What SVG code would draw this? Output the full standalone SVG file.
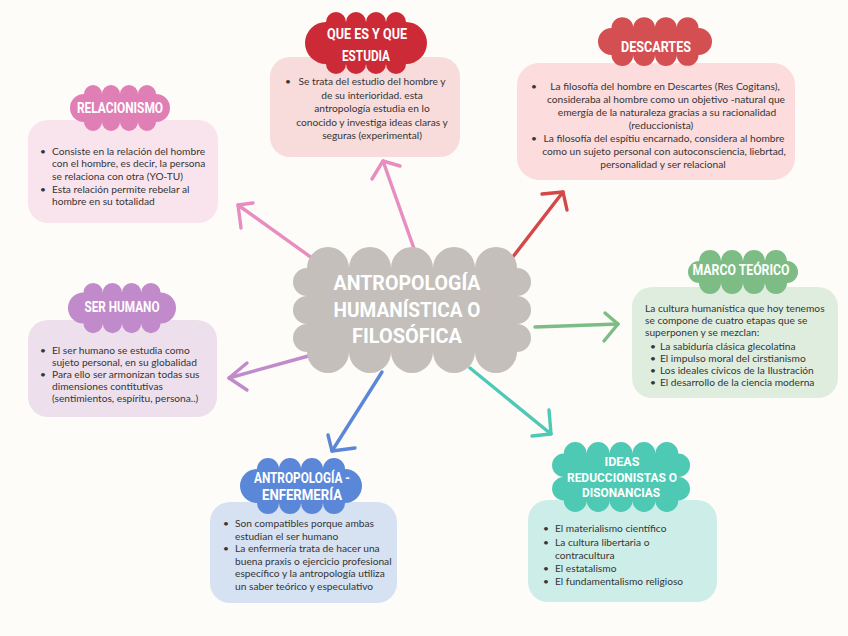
<svg xmlns="http://www.w3.org/2000/svg" width="848" height="636" viewBox="0 0 848 636">
<defs>
<style>
.bg{fill:#fdfcf8}
.box{stroke:none}
.hd{font-family:Roboto,"Liberation Sans",sans-serif;font-weight:700;fill:#ffffff;font-size:14px;text-anchor:middle}
.hs{font-size:12.5px}
.main{font-family:Roboto,"Liberation Sans",sans-serif;font-weight:700;fill:#ffffff;font-size:20px;text-anchor:middle}
.tx{font-family:Lato,"Liberation Sans",sans-serif;fill:#353535;font-size:10.2px}
.c{text-anchor:middle}
.ar{fill:none;stroke-width:3.4;stroke-linecap:round;stroke-linejoin:round}
</style>
</defs>
<rect class="bg" x="0" y="0" width="848" height="636"/>

<g id="connectors">
<g stroke="#e88dc0" class="ar"><path d="M417,257 L383,161"/><path d="M372,179 L383,161 L400,166"/></g>
<g stroke="#e88dc0" class="ar"><path d="M312,258 L238,205"/><path d="M253,203 L238,205 L241,228"/></g>
<g stroke="#d44848" class="ar"><path d="M512,258 L563,192"/><path d="M542,194 L563,192 L567,210"/></g>
<g stroke="#7dbd85" class="ar"><path d="M535,327 L618,324"/><path d="M605,313 L618,324 L604,341"/></g>
<g stroke="#4ec9b4" class="ar"><path d="M470,368 L551,434"/><path d="M549,410 L551,434 L532,436"/></g>
<g stroke="#5b87d8" class="ar"><path d="M382,372 L332,451"/><path d="M328,435 L332,451 L355,448"/></g>
<g stroke="#c08acb" class="ar"><path d="M312,355 L229,378"/><path d="M247,363 L229,378 L247,390"/></g>
</g>

<g id="center">
<path fill="#c4bfbb" d="M307,268 a21,21 0 0 1 42,0 a21,21 0 0 1 42,0 a21,21 0 0 1 42,0 a21,21 0 0 1 42,0 a21,21 0 0 1 42,0 a14,14 0 0 1 0,28 a14,14 0 0 1 0,28 a14,14 0 0 1 0,28 a21,21 0 0 1 -42,0 a21,21 0 0 1 -42,0 a21,21 0 0 1 -42,0 a21,21 0 0 1 -42,0 a21,21 0 0 1 -42,0 a14,14 0 0 1 0,-28 a14,14 0 0 1 0,-28 a14,14 0 0 1 0,-28 Z"/>
<text class="main" x="407" y="290" textLength="147" lengthAdjust="spacingAndGlyphs">ANTROPOLOGÍA</text>
<text class="main" x="407" y="317" textLength="147" lengthAdjust="spacingAndGlyphs">HUMANÍSTICA O</text>
<text class="main" x="407" y="343" textLength="110" lengthAdjust="spacingAndGlyphs">FILOSÓFICA</text>
</g>

<g id="que-es">
<rect class="box" fill="#f8dcdb" x="270" y="57" width="190" height="100" rx="20"/>
<path fill="#cc2a36" d="M326,22 a10,10 0 0 1 20,0 a10,10 0 0 1 20,0 a10,10 0 0 1 20,0 a10,10 0 0 1 20,0 a21,21 0 0 1 0,42 a10,10 0 0 1 -20,0 a10,10 0 0 1 -20,0 a10,10 0 0 1 -20,0 a10,10 0 0 1 -20,0 a21,21 0 0 1 0,-42 Z"/>
<text class="hd" x="367" y="39" textLength="80" lengthAdjust="spacingAndGlyphs">QUE ES Y QUE</text>
<text class="hd" x="366" y="61" textLength="48" lengthAdjust="spacingAndGlyphs">ESTUDIA</text>
<text class="tx" x="285" y="85">•</text>
<text class="tx c" x="372" y="85">Se trata del estudio del hombre y</text>
<text class="tx c" x="372" y="99">de su interioridad. esta</text>
<text class="tx c" x="372" y="112">antropología estudia en lo</text>
<text class="tx c" x="372" y="126">conocido y investiga ideas claras y</text>
<text class="tx c" x="372" y="139">seguras (experimental)</text>
</g>

<g id="descartes">
<rect class="box" fill="#fcdcdc" x="517" y="63" width="278" height="117" rx="22"/>
<path fill="#d44f52" d="M611.5,28 a10.875,10.875 0 0 1 21.75,0 a10.875,10.875 0 0 1 21.75,0 a10.875,10.875 0 0 1 21.75,0 a10.875,10.875 0 0 1 21.75,0 a13.5,13.5 0 0 1 0,27 a10.875,10.875 0 0 1 -21.75,0 a10.875,10.875 0 0 1 -21.75,0 a10.875,10.875 0 0 1 -21.75,0 a10.875,10.875 0 0 1 -21.75,0 a13.5,13.5 0 0 1 0,-27 Z"/>
<text class="hd" x="656" y="52" textLength="70" lengthAdjust="spacingAndGlyphs">DESCARTES</text>
<text class="tx" x="531" y="90">•</text>
<text class="tx c" x="665" y="90">La filosofía del hombre en Descartes (Res Cogitans),</text>
<text class="tx c" x="666" y="103">consideraba al hombre como un objetivo -natural que</text>
<text class="tx c" x="667" y="116">emergía de la naturaleza gracias a su racionalidad</text>
<text class="tx c" x="661" y="129">(reduccionista)</text>
<text class="tx" x="531" y="142">•</text>
<text class="tx c" x="664" y="142">La filosofía del espítiu encarnado, considera al hombre</text>
<text class="tx c" x="664" y="155">como un sujeto personal con autoconsciencia, liebrtad,</text>
<text class="tx c" x="663" y="168">personalidad y ser relacional</text>
</g>

<g id="relacionismo">
<rect class="box" fill="#f9e4ee" x="28" y="120" width="190" height="103" rx="20"/>
<path fill="#e07fb5" d="M84,94 a9,9 0 0 1 18,0 a9,9 0 0 1 18,0 a9,9 0 0 1 18,0 a9,9 0 0 1 18,0 a14,14 0 0 1 0,28 a9,9 0 0 1 -18,0 a9,9 0 0 1 -18,0 a9,9 0 0 1 -18,0 a9,9 0 0 1 -18,0 a14,14 0 0 1 0,-28 Z"/>
<text class="hd" x="120" y="113" textLength="86" lengthAdjust="spacingAndGlyphs">RELACIONISMO</text>
<text class="tx" x="40" y="155">•</text>
<text class="tx" x="52" y="155">Consiste en la relación del hombre</text>
<text class="tx" x="52" y="167">con el hombre, es decir, la persona</text>
<text class="tx" x="52" y="180">se relaciona con otra (YO-TU)</text>
<text class="tx" x="40" y="193">•</text>
<text class="tx" x="52" y="193">Esta relación permite rebelar al</text>
<text class="tx" x="52" y="205">hombre en su totalidad</text>
</g>

<g id="ser-humano">
<rect class="box" fill="#ede0ec" x="28" y="320" width="189" height="97" rx="20"/>
<path fill="#c08acb" d="M83.5,292.5 a9.625,9.625 0 0 1 19.25,0 a9.625,9.625 0 0 1 19.25,0 a9.625,9.625 0 0 1 19.25,0 a9.625,9.625 0 0 1 19.25,0 a15.5,15.5 0 0 1 0,31 a9.625,9.625 0 0 1 -19.25,0 a9.625,9.625 0 0 1 -19.25,0 a9.625,9.625 0 0 1 -19.25,0 a9.625,9.625 0 0 1 -19.25,0 a15.5,15.5 0 0 1 0,-31 Z"/>
<text class="hd" x="122" y="312" textLength="75" lengthAdjust="spacingAndGlyphs">SER HUMANO</text>
<text class="tx" x="40" y="354">•</text>
<text class="tx" x="52" y="354">El ser humano se estudia como</text>
<text class="tx" x="52" y="366">sujeto personal, en su globalidad</text>
<text class="tx" x="40" y="378">•</text>
<text class="tx" x="52" y="378">Para ello ser armonizan todas sus</text>
<text class="tx" x="52" y="390">dimensiones contitutivas</text>
<text class="tx" x="52" y="402">(sentimientos, espíritu, persona..)</text>
</g>

<g id="marco-teorico">
<rect class="box" fill="#dfeddf" x="632" y="287" width="206" height="111" rx="20"/>
<path fill="#7dbd85" d="M699,261 a11,11 0 0 1 22,0 a11,11 0 0 1 22,0 a11,11 0 0 1 22,0 a11,11 0 0 1 22,0 a11,11 0 0 1 0,22 a11,11 0 0 1 -22,0 a11,11 0 0 1 -22,0 a11,11 0 0 1 -22,0 a11,11 0 0 1 -22,0 a11,11 0 0 1 0,-22 Z"/>
<text class="hd" x="741" y="275" textLength="97" lengthAdjust="spacingAndGlyphs">MARCO TEÓRICO</text>
<text class="tx" x="645" y="312">La cultura humanística que hoy tenemos</text>
<text class="tx" x="645" y="324">se compone de cuatro etapas que se</text>
<text class="tx" x="645" y="336">superponen y se mezclan:</text>
<text class="tx" x="650" y="350">•</text>
<text class="tx" x="660" y="350">La sabiduría clásica glecolatina</text>
<text class="tx" x="650" y="362">•</text>
<text class="tx" x="660" y="362">El impulso moral del cirstianismo</text>
<text class="tx" x="650" y="374">•</text>
<text class="tx" x="660" y="374">Los ideales cívicos de la Ilustración</text>
<text class="tx" x="650" y="386">•</text>
<text class="tx" x="660" y="386">El desarrollo de la ciencia moderna</text>
</g>

<g id="enfermeria">
<rect class="box" fill="#d6e1f1" x="210" y="502" width="187" height="101" rx="20"/>
<path fill="#5b87d8" d="M257,469 a11,11 0 0 1 22,0 a11,11 0 0 1 22,0 a11,11 0 0 1 22,0 a11,11 0 0 1 22,0 a17,17 0 0 1 0,34 a11,11 0 0 1 -22,0 a11,11 0 0 1 -22,0 a11,11 0 0 1 -22,0 a11,11 0 0 1 -22,0 a17,17 0 0 1 0,-34 Z"/>
<text class="hd" x="302" y="483" textLength="96" lengthAdjust="spacingAndGlyphs">ANTROPOLOGÍA -</text>
<text class="hd" x="302" y="500" textLength="80" lengthAdjust="spacingAndGlyphs">ENFERMERÍA</text>
<text class="tx" x="223" y="527">•</text>
<text class="tx" x="235" y="527">Son compatibles porque ambas</text>
<text class="tx" x="235" y="540">estudian el ser humano</text>
<text class="tx" x="223" y="552">•</text>
<text class="tx" x="235" y="552">La enfermería trata de hacer una</text>
<text class="tx" x="235" y="565">buena praxis o ejercicio profesional</text>
<text class="tx" x="235" y="577">específico y la antropología utiliza</text>
<text class="tx" x="235" y="590">un saber teórico y especulativo</text>
</g>

<g id="ideas-reduccionistas">
<rect class="box" fill="#cdeee8" x="528" y="500" width="189" height="102" rx="20"/>
<path fill="#4ec9b4" d="M563.8,453.5 a11.45,11.45 0 0 1 22.9,0 a11.45,11.45 0 0 1 22.9,0 a11.45,11.45 0 0 1 22.9,0 a11.45,11.45 0 0 1 22.9,0 a11.45,11.45 0 0 1 22.9,0 a11.75,11.75 0 0 1 0,23.5 a11.75,11.75 0 0 1 0,23.5 a11.45,11.45 0 0 1 -22.9,0 a11.45,11.45 0 0 1 -22.9,0 a11.45,11.45 0 0 1 -22.9,0 a11.45,11.45 0 0 1 -22.9,0 a11.45,11.45 0 0 1 -22.9,0 a11.75,11.75 0 0 1 0,-23.5 a11.75,11.75 0 0 1 0,-23.5 Z"/>
<text class="hd hs" x="622" y="466" textLength="35" lengthAdjust="spacingAndGlyphs">IDEAS</text>
<text class="hd hs" x="622" y="481.5" textLength="110" lengthAdjust="spacingAndGlyphs">REDUCCIONISTAS O</text>
<text class="hd hs" x="621" y="497" textLength="78" lengthAdjust="spacingAndGlyphs">DISONANCIAS</text>
<text class="tx" x="543" y="532">•</text>
<text class="tx" x="555" y="532">El materialismo científico</text>
<text class="tx" x="543" y="546">•</text>
<text class="tx" x="555" y="546">La cultura libertaria o</text>
<text class="tx" x="555" y="559">contracultura</text>
<text class="tx" x="543" y="572">•</text>
<text class="tx" x="555" y="572">El estatalismo</text>
<text class="tx" x="543" y="585">•</text>
<text class="tx" x="555" y="585">El fundamentalismo religioso</text>
</g>
</svg>
